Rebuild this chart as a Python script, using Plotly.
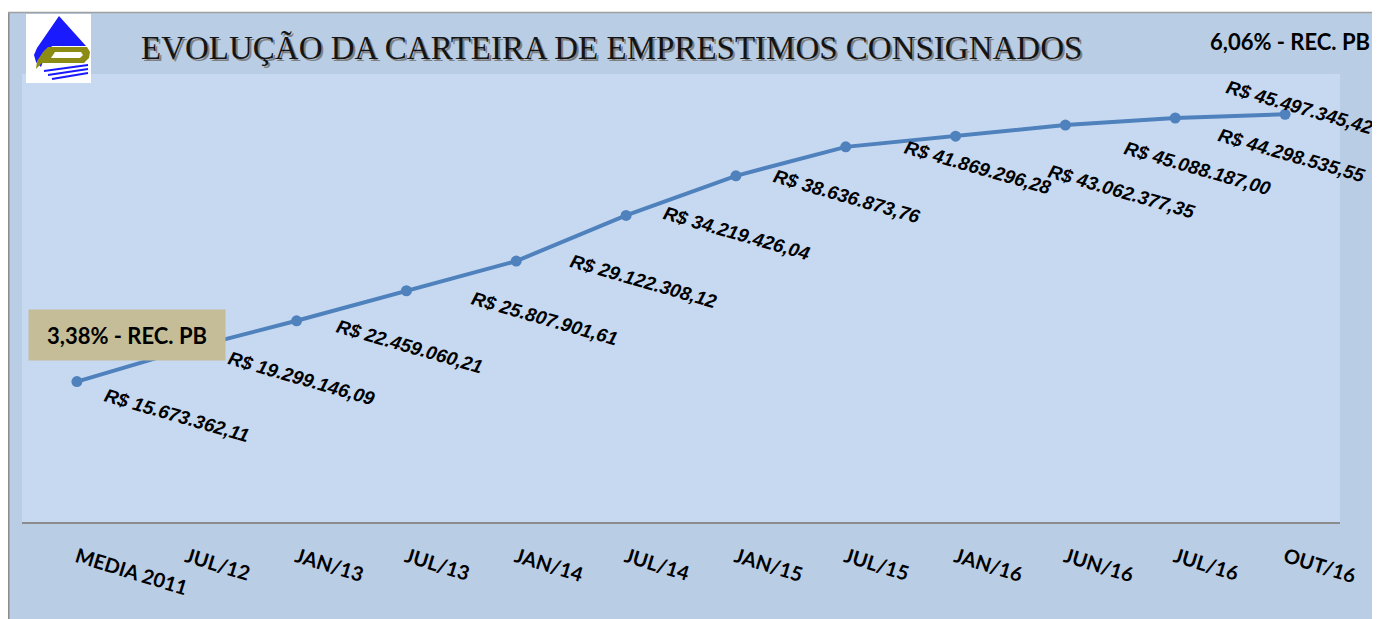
import plotly.graph_objects as go

categories = ["MEDIA 2011", "JUL/12", "JAN/13", "JUL/13", "JAN/14", "JUL/14",
              "JAN/15", "JUL/15", "JAN/16", "JUN/16", "JUL/16", "OUT/16"]
values = [15673362.11, 19299146.09, 22459060.21, 25807901.61, 29122308.12,
          34219426.04, 38636873.76, 41869296.28, 43062377.35, 44298535.55,
          45088187.00, 45497345.42]
title_text = "EVOLUÇÃO DA CARTEIRA DE EMPRESTIMOS CONSIGNADOS"
rec_start = "3,38% - REC. PB"
rec_end = "6,06% - REC. PB"

# label pixel offsets (dx right, dy down) relative to each point
label_offsets = [(100, 34), (115, 29), (113, 26), (138, 28), (128, 20), (111, 18),
                 (111, 21), (132, 21), (166, 55), (227, 30), (23, 50), (15, -7)]

# page is drawn with an 8px body margin; work in page pixels
OFF = 8
W, H = 1372, 611
ML, MR, MT, MB = 14, 40, 66, 97
PW = W - ML - MR
PH = H - MT - MB


def px(x):
    return (x - OFF - ML) / PW


def py(y):
    return (H - MB - (y - OFF)) / PH


def path(points, close=True):
    s = "M " + " L ".join(f"{px(x):.5f},{py(y):.5f}" for x, y in points)
    return s + (" Z" if close else "")


def brl(v):
    s = f"{v:,.2f}"
    s = s.replace(",", "X").replace(".", ",").replace("X", ".")
    return "R$ " + s


CHART_BG = "#b9cde5"
PLOT_BG = "#c6d9f1"
LINE = "#4f81bd"
LABEL_FONT = "Liberation Sans, Arial, sans-serif"
CAL_FONT = "Lato, Open Sans, sans-serif"

fig = go.Figure()
fig.add_trace(go.Scatter(
    x=categories, y=values, mode="lines+markers",
    line=dict(color=LINE, width=4),
    marker=dict(color=LINE, size=11),
    hoverinfo="skip", showlegend=False,
))

annotations = []
for i, (c, v) in enumerate(zip(categories, values)):
    dx, dy = label_offsets[i]
    annotations.append(dict(
        x=c, y=v, xref="x", yref="y", text=f"<b><i>{brl(v)}</i></b>", showarrow=False,
        xanchor="center", yanchor="middle", xshift=dx, yshift=-dy,
        textangle=16,
        font=dict(family=LABEL_FONT, size=19, color="black"),
    ))

# title with shadow
for off, col in [((2, 2), "#808080"), ((0, 0), "#141414")]:
    annotations.append(dict(
        x=px(611 + off[0]), y=py(48 + off[1]), xref="paper", yref="paper",
        text=title_text, showarrow=False, xanchor="center", yanchor="middle",
        font=dict(family="Liberation Serif, DejaVu Serif, serif", size=33, color=col),
    ))

annotations.append(dict(
    x=px(1290), y=py(41), xref="paper", yref="paper", text=f"<b>{rec_end}</b>",
    showarrow=False, xanchor="center", yanchor="middle",
    font=dict(family=CAL_FONT, size=22, color="black"),
))
annotations.append(dict(
    x=px(127), y=py(335), xref="paper", yref="paper", text=f"<b>{rec_start}</b>",
    showarrow=False, xanchor="center", yanchor="middle",
    width=196, height=50, bgcolor="#c4bd97", borderpad=0,
    font=dict(family=CAL_FONT, size=22, color="black"),
))

shapes = [
    # white strip above chart area
    dict(type="rect", xref="paper", yref="paper", x0=px(0), x1=px(1400), y0=py(12), y1=py(0),
         fillcolor="white", line_width=0, layer="above"),
    # chart area border
    dict(type="line", xref="paper", yref="paper", x0=px(8.5), x1=px(8.5), y0=py(12), y1=py(640),
         line=dict(color="#8c8c8c", width=2)),
    dict(type="line", xref="paper", yref="paper", x0=px(8), x1=px(1400), y0=py(12.5), y1=py(12.5),
         line=dict(color="#a0a0a0", width=1.5)),
    # logo box
    dict(type="rect", xref="paper", yref="paper", x0=px(26), x1=px(91), y0=py(83), y1=py(14),
         fillcolor="white", line_width=0, layer="above"),
    # blue drop
    dict(type="path", xref="paper", yref="paper",
         path=path([(59, 16), (86, 46), (52, 46), (45, 56), (41, 67), (36, 62), (34, 55), (37, 48)]),
         fillcolor="#1a1aff", line_width=0, layer="above"),
    # olive shape
    dict(type="path", xref="paper", yref="paper",
         path=path([(48, 47), (87, 47), (90, 52), (89, 58), (84, 63), (42, 63), (36, 69),
                    (37, 61), (43, 52)]),
         fillcolor="#8c8c14", line_width=0, layer="above"),
    dict(type="path", xref="paper", yref="paper",
         path=path([(55, 52), (81, 52), (83, 55), (80, 58), (51, 58)]),
         fillcolor="white", line_width=0, layer="above"),
]
# blue stripes of logo
for (x0, y0, x1, y1) in [(44, 71, 88, 65), (48, 75, 88, 69), (52, 79, 88, 73)]:
    shapes.append(dict(type="line", xref="paper", yref="paper",
                       x0=px(x0), y0=py(y0), x1=px(x1), y1=py(y1),
                       line=dict(color="#1a1aff", width=2), layer="above"))

fig.update_layout(
    width=W, height=H,
    margin=dict(l=ML, r=MR, t=MT, b=MB, pad=0),
    paper_bgcolor=CHART_BG, plot_bgcolor=PLOT_BG,
    annotations=annotations, shapes=shapes,
    showlegend=False,
    xaxis=dict(
        type="category", range=[-0.5, len(categories) - 0.5],
        tickmode="array", tickvals=categories,
        ticktext=[f"<b>{c}</b>" for c in categories],
        tickangle=17, ticks="", showgrid=False, zeroline=False,
        showline=True, linecolor="#8c8c8c", linewidth=2,
        ticklabelstandoff=14,
        tickfont=dict(family=CAL_FONT, size=20, color="black"),
    ),
    yaxis=dict(range=[0, 50000000], showticklabels=False, showgrid=False,
               zeroline=False, showline=False, ticks=""),
)

fig.write_html("out.html")
